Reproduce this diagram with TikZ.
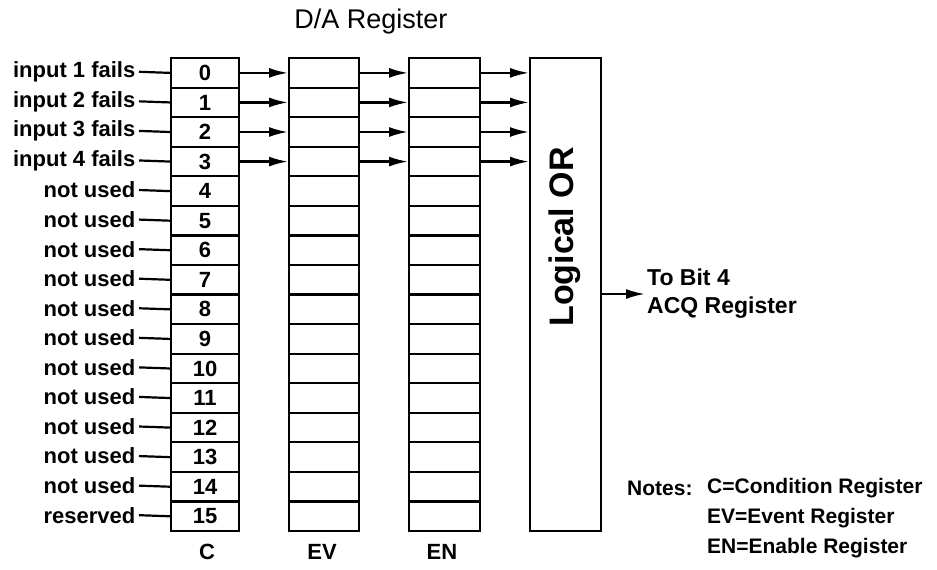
\documentclass[tikz,border=0pt]{standalone}
\usepackage{fontspec}
\setmainfont{Liberation Sans}
\usetikzlibrary{arrows.meta}
\begin{document}
\begin{tikzpicture}[x=1pt,y={(0pt,-1pt)},
  cell/.style={draw,line width=2.2pt,minimum width=68pt,minimum height=29.56pt,anchor=north west,inner sep=0pt,font=\fontsize{22}{22}\selectfont\bfseries},
  lbl/.style={anchor=east,inner xsep=3.5pt,inner ysep=0pt,font=\fontsize{22}{22}\selectfont\bfseries},
  conn/.style={line width=2.2pt},
  arr/.style={line width=2.2pt,-{Latex[length=19pt,width=10pt]}},
  txt/.style={font=\fontsize{22}{26}\selectfont\bfseries,inner sep=0pt},
  note/.style={font=\fontsize{21}{26}\selectfont\bfseries,inner sep=0pt,anchor=west}]
\useasboundingbox (0,0) rectangle (937,570);
\node[font=\fontsize{27}{27}\selectfont,inner sep=0pt] (title) at (371,22) {D/A Register};
\foreach \i/\t in {0/input 1 fails,1/input 2 fails,2/input 3 fails,3/input 4 fails,4/not used,5/not used,6/not used,7/not used,8/not used,9/not used,10/not used,11/not used,12/not used,13/not used,14/not used,15/reserved}{
  \node[cell] (c\i) at (170,{57+29.56*\i}) {\i};
  \node[cell,minimum width=70pt] (ev\i) at (288,{57+29.56*\i}) {};
  \node[cell,minimum width=71pt] (en\i) at (408,{57+29.56*\i}) {};
  \node[lbl] (l\i) at (139,{57+29.56*(\i+0.5)}) {\t};
  \draw[conn] (l\i.east) -- (c\i.west);
}
\node[draw,line width=2.2pt,minimum width=71pt,minimum height=473pt,anchor=north west,inner sep=0pt] (or) at (529,57) {};
\node[rotate=90,font=\fontsize{34}{34}\selectfont\bfseries,inner sep=0pt] (ortext) at (565,237) {Logical OR};
\foreach \i in {0,...,3}{
  \draw[arr] (c\i.east) -- (ev\i.west);
  \draw[arr] (ev\i.east) -- (en\i.west);
  \draw[arr] (en\i.east) -- (en\i.east -| or.west);
}
\node[txt,font=\fontsize{23}{28}\selectfont\bfseries,anchor=west,align=left,inner xsep=2pt] (tobit) at (645,294) {To Bit 4\\ACQ Register};
\draw[arr] (or.east |- tobit.west) -- (tobit.west);
\node[txt] (lc) at (207,552) {C};
\node[txt] (lev) at (322,552) {EV};
\node[txt] (len) at (442,552) {EN};
\node[note] (notes) at (627,488) {Notes:};
\node[note] (n1) at (707,488) {C=Condition Register};
\node[note] (n2) at (707,518) {EV=Event Register};
\node[note] (n3) at (707,548) {EN=Enable Register};
\end{tikzpicture}
\end{document}
